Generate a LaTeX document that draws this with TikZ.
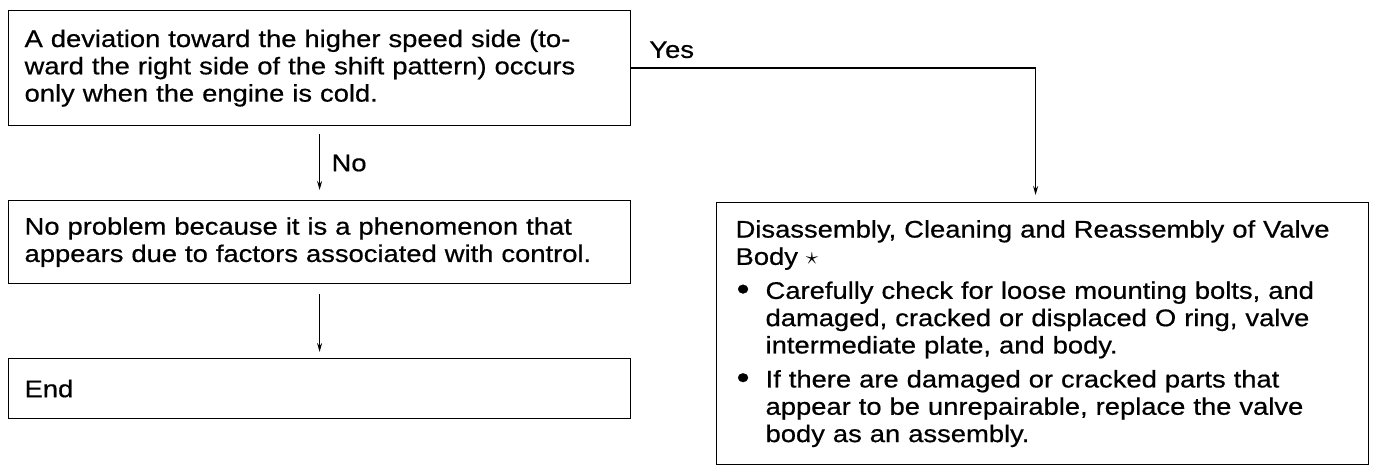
\documentclass[tikz,border=0pt]{standalone}
\usepackage{fontspec}
\setmainfont{Liberation Sans}[FakeStretch=1.14,FakeBold=0.6]
\usetikzlibrary{arrows.meta,positioning}
\tikzset{
  stepbox/.style={draw,line width=1.2pt,align=left,anchor=north west,
    inner xsep=16pt,font=\fontsize{24}{27.3}\selectfont},
  flow/.style={-{Stealth[length=9pt,width=5pt]},line width=1.3pt},
  answer/.style={font=\fontsize{24}{27.3}\selectfont},
}
\newcommand{\bulletitem}{\makebox[30pt][l]{\hspace{1pt}\raisebox{-1pt}{\scalebox{1.35}{\textbullet}}}}
\newcommand{\bulletrest}{\hspace*{30pt}}
\begin{document}
\begin{tikzpicture}[x=1pt,y=1pt]
\useasboundingbox (0,0) rectangle (1376,-474);
% left column
\node[stepbox,minimum width=622pt,minimum height=115pt,text width=590pt] (cold) at (8,-10)
  {A deviation toward the higher speed side (to-\\ward the right side of the shift pattern) occurs\\only when the engine is cold.};
\node[stepbox,minimum width=622pt,minimum height=83pt,text width=590pt] (nofault) at (8,-200)
  {No problem because it is a phenomenon that\\appears due to factors associated with control.};
\node[stepbox,minimum width=622pt,minimum height=60pt,text width=590pt] (finish) at (8,-358)
  {End};
% right column
\node[stepbox,inner xsep=19pt,minimum width=652pt,minimum height=262pt,text width=614pt] (overhaul) at (716,-202)
  {Disassembly, Cleaning and Reassembly of Valve\\Body $\star$\\[6.7pt]
   \bulletitem Carefully check for loose mounting bolts, and\\
   \bulletrest damaged, cracked or displaced O ring, valve\\
   \bulletrest intermediate plate, and body.\\[6.7pt]
   \bulletitem If there are damaged or cracked parts that\\
   \bulletrest appear to be unrepairable, replace the valve\\
   \bulletrest body as an assembly.};
% connectors
\coordinate (yesdrop) at ([xshift=-7pt]overhaul.north);
\draw[flow,shorten <=8pt,shorten >=10pt] (cold.south) -- node[answer,right=8pt] {No} (nofault.north);
\draw[flow,shorten <=10pt,shorten >=6pt] (nofault.south) -- (finish.north);
\draw[flow,shorten >=7pt] (cold.east) -| node[answer,pos=0.05,above=6pt] {Yes} (yesdrop);
\end{tikzpicture}
\end{document}
